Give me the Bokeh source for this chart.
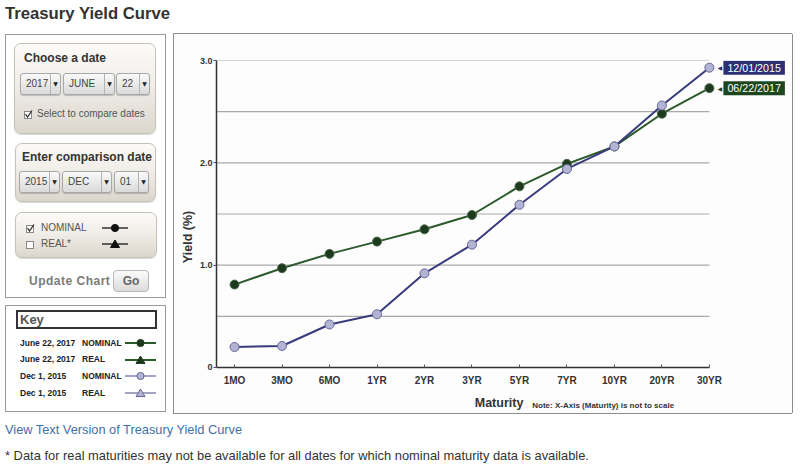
from bokeh.plotting import figure
from bokeh.models import Range1d, FixedTicker, Div, ColumnDataSource
from bokeh.core.properties import value
from bokeh.layouts import column, row
from bokeh.embed import file_html
from bokeh.resources import INLINE

# ---------------- data ----------------
maturities = ["1MO", "3MO", "6MO", "1YR", "2YR", "3YR", "5YR", "7YR", "10YR", "20YR", "30YR"]
yield_2017_06_22 = [0.81, 0.97, 1.11, 1.23, 1.35, 1.49, 1.77, 1.99, 2.16, 2.48, 2.73]
yield_2015_12_01 = [0.20, 0.21, 0.42, 0.52, 0.92, 1.20, 1.59, 1.94, 2.16, 2.56, 2.93]
y_ticks = [0, 1, 2, 3]
y_tick_labels = ["0", "1.0", "2.0", "3.0"]
y_grid_values = [0.5, 1.0, 1.5, 2.0, 2.5, 3.0]
date_recent = "06/22/2017"
date_compare = "12/01/2015"

FONT = "Liberation Sans"
CSSFONT = "'Liberation Sans', Arial, sans-serif"
GREEN_LINE = "#2b5a2b"
GREEN_DOT = "#1d3a1d"
GREEN_TAG = "#1e461e"
BLUE_LINE = "#373b7c"
BLUE_DOT = "#b3b3d3"
BLUE_EDGE = "#66669a"
BLUE_TAG = "#2c2f72"
BORDER = "#8d8d8d"

# ---------------- chart ----------------
xs = list(range(len(maturities)))
x_start = -0.38
p = figure(width=618, height=379,
           x_range=Range1d(x_start, 11.75), y_range=Range1d(-0.45, 3.0),
           output_backend="svg", toolbar_location=None,
           min_border_left=42, min_border_right=0, min_border_top=26, min_border_bottom=0,
           background_fill_color="#fdfdfd", border_fill_color="#fdfdfd")
p.outline_line_color = None
p.xgrid.visible = False
p.ygrid.visible = False

# horizontal grid lines, stopping at the last maturity
p.segment(x0=x_start, x1=xs[-1], y0=y_grid_values, y1=y_grid_values,
          line_color="#a9a9a9", line_width=1.2)

p.xaxis.fixed_location = 0
p.xaxis.bounds = (x_start, xs[-1])
p.xaxis.ticker = FixedTicker(ticks=xs)
p.xaxis.major_label_overrides = {i: m for i, m in enumerate(maturities)}
p.yaxis.bounds = (0, 3)
p.yaxis.ticker = FixedTicker(ticks=y_ticks)
p.yaxis.major_label_overrides = {t: s for t, s in zip(y_ticks, y_tick_labels)}
for ax in (p.xaxis[0], p.yaxis[0]):
    ax.axis_line_color = "#333333"
    ax.axis_line_width = 1.5
    ax.major_tick_line_color = "#555555"
    ax.minor_tick_line_color = None
    ax.major_label_text_font = FONT
    ax.major_label_text_font_style = "bold"
    ax.major_label_text_color = "#333333"
p.xaxis.major_label_text_font_size = "10px"
p.yaxis.major_label_text_font_size = "9px"
p.xaxis.major_tick_in = 3
p.xaxis.major_tick_out = 0
p.xaxis.major_label_standoff = 8
p.yaxis.major_tick_in = 0
p.yaxis.major_tick_out = 3
p.yaxis.major_label_standoff = 1
p.yaxis.axis_label = "Yield (%)"
p.yaxis.axis_label_text_font = FONT
p.yaxis.axis_label_text_font_style = "bold"
p.yaxis.axis_label_text_font_size = "12.5px"
p.yaxis.axis_label_text_color = "#333333"
p.yaxis.axis_label_standoff = 2

p.line(xs, yield_2017_06_22, line_color=GREEN_LINE, line_width=2)
p.scatter(xs, yield_2017_06_22, size=9, fill_color=GREEN_DOT, line_color="#4d6b4d", line_width=1)
p.line(xs, yield_2015_12_01, line_color=BLUE_LINE, line_width=2)
p.scatter(xs, yield_2015_12_01, size=9, fill_color=BLUE_DOT, line_color=BLUE_EDGE, line_width=1)

# x-axis title and note, anchored under the axis
p.text(x=[5.57], y=[0], text=["Maturity"], y_offset=36, text_align="center",
       text_baseline="middle", text_font=value(FONT), text_font_style="bold",
       text_font_size="12.5px", text_color="#333333")
p.text(x=[6.27], y=[0], text=["Note: X-Axis (Maturity) is not to scale"], y_offset=38,
       text_align="left", text_baseline="middle", text_font=value(FONT),
       text_font_style="bold", text_font_size="8px", text_color="#333333")

# end-of-series date tags
tags = ColumnDataSource(dict(
    x=[xs[-1], xs[-1]],
    y=[yield_2015_12_01[-1], yield_2017_06_22[-1]],
    text=[date_compare, date_recent],
    color=[BLUE_TAG, GREEN_TAG],
    arrow=["\u25C0", "\u25C0"],
))
p.text(x="x", y="y", text="arrow", source=tags, x_offset=8, text_align="left",
       text_baseline="middle", text_color="color", text_font=value("DejaVu Sans"),
       text_font_size="6px")
p.text(x="x", y="y", text="text", source=tags, x_offset=14, text_align="left",
       text_baseline="middle", text_color="white", text_font=value(FONT),
       text_font_size="10.7px", background_fill_color="color",
       padding=dict(left=4, right=4, top=1, bottom=1))

# ---------------- HTML side panels ----------------
def rect(l, t, w, h, style):
    return (f'<div style="position:absolute;left:{l}px;top:{t}px;width:{w}px;height:{h}px;'
            f'box-sizing:border-box;{style}"></div>')

def text(l, cy, s, size, weight="normal", color="#333", extra=""):
    lh = round(size * 1.25)
    return (f'<div style="position:absolute;left:{l}px;top:{cy - lh / 2}px;line-height:{lh}px;'
            f'font-size:{size}px;font-weight:{weight};color:{color};white-space:nowrap;{extra}">{s}</div>')

def select(l, t, w, s):
    return (f'<div style="position:absolute;left:{l}px;top:{t}px;width:{w}px;height:22px;box-sizing:border-box;'
            f'border:1px solid #a8a8a8;border-radius:3px;background:linear-gradient(#f9f9f9,#dadada);'
            f'font-size:10px;color:#444;line-height:20px;padding-left:5px;box-shadow:0 1px 1px rgba(0,0,0,0.2)">{s}'
            f'<div style="position:absolute;right:0;top:0;width:10px;height:20px;border-left:1px solid #b3b3b3;'
            f'text-align:center;line-height:20px;font-size:6px;font-family:DejaVu Sans;color:#222">\u25BC</div></div>')

def checkbox(l, cy, checked):
    mark = '<polyline points="1.5,4 3.5,7 8,0.5" fill="none" stroke="#333" stroke-width="1.3"/>' if checked else ''
    return (f'<svg width="9" height="9" style="position:absolute;left:{l}px;top:{cy - 4}px">'
            f'<rect x="0.5" y="1.5" width="7" height="7" fill="#fff" stroke="#8a8a8a"/>{mark}</svg>')

def symbol(l, cy, w, shape, line, fill, edge, lw):
    c = w / 2
    if shape == "circle":
        m = f'<circle cx="{c}" cy="5" r="3.6" fill="{fill}" stroke="{edge}" stroke-width="1"/>'
    else:
        m = f'<polygon points="{c - 4.5},8.5 {c + 4.5},8.5 {c},1" fill="{fill}" stroke="{edge}" stroke-width="1"/>'
    return (f'<svg width="{w}" height="10" style="position:absolute;left:{l}px;top:{cy - 5}px">'
            f'<line x1="0" y1="5" x2="{w}" y2="5" stroke="{line}" stroke-width="{lw}"/>{m}</svg>')

PANEL = ("border:1px solid #c6c1b7;border-radius:7px;"
         "background:linear-gradient(#fcfbf9 0%,#f1eee9 45%,#dcd7cd 100%);box-shadow:0 1px 1px rgba(0,0,0,0.15)")

left_parts = [
    rect(5, 0, 161, 264, "border:1px solid #9a9a9a"),
    rect(14, 9, 142, 91, PANEL),
    text(24, 24, "Choose a date", 12, "bold", "#333"),
    select(20, 39, 41, "2017"), select(63, 39, 52, "JUNE"), select(116, 39, 34, "22"),
    checkbox(24, 80, True),
    text(37, 80, "Select to compare dates", 10, "normal", "#555"),
    rect(15, 109, 141, 59, PANEL),
    text(22, 123, "Enter comparison date", 12, "bold", "#333"),
    select(19, 137, 41, "2015"), select(62, 137, 50, "DEC"), select(114, 137, 35, "01"),
    rect(15, 178, 142, 46, PANEL),
    checkbox(26, 194, True), text(41, 194, "NOMINAL", 10, "normal", "#555"),
    symbol(102, 194, 26, "circle", "#111", "#111", "#111", 1.3),
    checkbox(26, 210, False), text(41, 210, "REAL*", 10, "normal", "#555"),
    symbol(102, 210, 26, "triangle", "#111", "#111", "#111", 1.3),
    text(29, 247, "Update Chart", 12, "bold", "#7a7a7a", "letter-spacing:0.5px"),
    rect(113, 236, 36, 22, "border:1px solid #b8b8b8;border-radius:4px;background:linear-gradient(#fbfbfb,#dbdbdb)"),
    text(113, 247, "Go", 12, "bold", "#666", "width:36px;text-align:center"),
    rect(5, 271, 161, 107, "border:1px solid #9a9a9a"),
    rect(16, 276, 141, 19, "border:2px solid #333"),
    text(20, 286, "Key", 13, "bold", "#555"),
    rect(173, 0, 1, 379, f"background:{BORDER}"),
]
key_rows = [
    ("June 22, 2017", "NOMINAL", "circle", GREEN_LINE, GREEN_DOT, GREEN_DOT, 2),
    ("June 22, 2017", "REAL", "triangle", GREEN_LINE, GREEN_DOT, GREEN_DOT, 2),
    ("Dec 1, 2015", "NOMINAL", "circle", BLUE_EDGE, BLUE_DOT, BLUE_EDGE, 1.2),
    ("Dec 1, 2015", "REAL", "triangle", BLUE_EDGE, BLUE_DOT, BLUE_EDGE, 1.2),
]
for i, (d, kind, shape, lc, fc, ec, lw) in enumerate(key_rows):
    cy = 309 + i * 16.7
    left_parts.append(text(20, cy, d, 8.5, "bold", "#222"))
    left_parts.append(text(82, cy, kind, 8.5, "bold", "#222"))
    left_parts.append(symbol(125, cy, 31, shape, lc, fc, ec, lw))

left_html = (f'<div style="position:relative;width:174px;height:379px;font-family:{CSSFONT}">'
             + "".join(left_parts) + '</div>')

top_html = (f'<div style="position:relative;width:796px;height:34px;font-family:{CSSFONT}">'
            f'<div style="position:absolute;left:5px;top:4.5px;line-height:18px;font-size:16.7px;'
            f'font-weight:bold;color:#333;white-space:nowrap">Treasury Yield Curve</div>'
            + rect(173, 33, 619, 1, f"background:{BORDER}") + '</div>')

foot_html = (f'<div style="position:relative;width:796px;height:58px;font-family:{CSSFONT}">'
             + rect(173, 0, 619, 1, f"background:{BORDER}")
             + text(5, 17, "View Text Version of Treasury Yield Curve", 12.8, "normal", "#3f6fa8")
             + text(5, 43, "* Data for real maturities may not be available for all dates for which "
                           "nominal maturity data is available.", 12.9, "normal", "#333")
             + '</div>')

right_html = ('<div style="position:relative;width:4px;height:379px">'
              + rect(0, 0, 1, 379, f"background:{BORDER}") + '</div>')

top_div = Div(text=top_html, width=796, height=34, margin=0)
left_div = Div(text=left_html, width=174, height=379, margin=0)
right_div = Div(text=right_html, width=4, height=379, margin=0)
foot_div = Div(text=foot_html, width=796, height=58, margin=0)

layout = column(top_div, row(left_div, p, right_div, spacing=0), foot_div, spacing=0)
open("out.html", "w").write(file_html(layout, INLINE))
